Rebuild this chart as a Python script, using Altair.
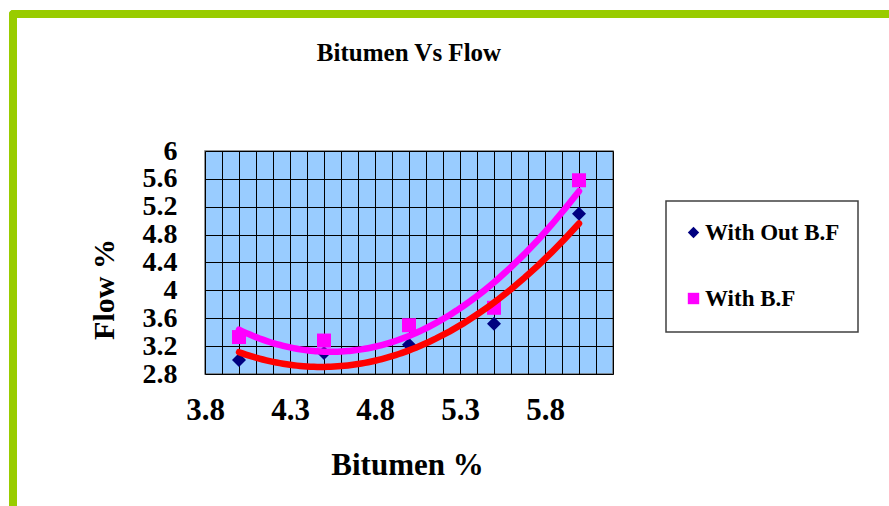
import altair as alt
import pandas as pd

# Bitumen content (%) and measured flow (%) for both mixes
bitumen = [4.0, 4.5, 5.0, 5.5, 6.0]
flow_without_bf = [3.00, 3.10, 3.22, 3.52, 5.10]
flow_with_bf = [3.33, 3.28, 3.50, 3.75, 5.58]

series_names = ["With Out B.F", "With B.F"]
series_colors = ["#000080", "#ff00ff"]
series_shapes = ["diamond", "square"]
trend_colors = ["#ff0000", "#ff00ff"]

x_grid = [round(3.8 + 0.1 * i, 1) for i in range(25)]
y_grid = [2.8, 3.2, 3.6, 4.0, 4.4, 4.8, 5.2, 5.6, 6.0]

FONT = "Liberation Serif"
W, H = 408, 223
LEFT, TOP = 205, 151

rows = []
for name, values in zip(series_names, [flow_without_bf, flow_with_bf]):
    for b, f in zip(bitumen, values):
        rows.append({"bitumen": b, "flow": f, "series": name})
df = pd.DataFrame(rows)

x_scale = alt.Scale(domain=[3.8, 6.2], nice=False, zero=False)
y_scale = alt.Scale(domain=[2.8, 6.0], nice=False, zero=False)

x_axis = alt.Axis(
    values=x_grid, tickCount=len(x_grid),
    labelExpr="round(datum.value * 10) % 5 == 3 ? format(datum.value, '.1f') : ''",
    title="Bitumen %",
    titleX=202, titleY=100, titleAlign="center", titleBaseline="alphabetic",
    titleFontSize=31, labelFontSize=31, labelPadding=21,
    grid=True, ticks=False, domain=False, labelFlush=False, labelOverlap=False,
)
y_axis = alt.Axis(
    values=y_grid, tickCount=len(y_grid),
    format=".1~f",
    title="Flow %",
    titleX=-92, titleY=138, titleAngle=270, titleAlign="center",
    titleBaseline="alphabetic",
    titleFontSize=30, labelFontSize=28, labelPadding=28,
    grid=True, ticks=False, domain=False, labelFlush=False, labelOverlap=False,
)

legend_style = dict(
    title=None, orient="none", legendX=456, legendY=49,
    padding=21,
    labelFont=FONT, labelFontSize=23, labelFontWeight="bold",
    labelColor="black", symbolSize=130, symbolStrokeWidth=0,
    rowPadding=42, labelOffset=0,
)

points = alt.Chart(df).mark_point(filled=True, size=196, opacity=1).encode(
    x=alt.X("bitumen:Q", scale=x_scale, axis=x_axis),
    y=alt.Y("flow:Q", scale=y_scale, axis=y_axis),
    color=alt.Color(
        "series:N",
        scale=alt.Scale(domain=series_names, range=series_colors),
        legend=alt.Legend(**legend_style),
    ),
    shape=alt.Shape(
        "series:N",
        scale=alt.Scale(domain=series_names, range=series_shapes),
        legend=alt.Legend(**legend_style),
    ),
)

# Second-order polynomial trend lines for each series
trends = []
for name, color in zip(series_names, trend_colors):
    trends.append(
        alt.Chart(df)
        .transform_filter(alt.datum.series == name)
        .transform_regression("bitumen", "flow", method="poly", order=2, extent=[4, 6])
        .mark_line(color=color, strokeWidth=6.5, strokeCap="round")
        .encode(x=alt.X("bitumen:Q", scale=x_scale), y=alt.Y("flow:Q", scale=y_scale))
    )

one = pd.DataFrame({"k": [0]})

# Box behind the legend
legend_box = alt.Chart(one).mark_rect(fill="white", stroke="#404040", strokeWidth=1.5).encode(
    x=alt.value(666 - LEFT), x2=alt.value(858 - LEFT),
    y=alt.value(201 - TOP), y2=alt.value(332 - TOP),
)

# Green frame around the figure
frame_left = alt.Chart(one).mark_rect(color="#99cc00", cornerRadiusTopLeft=5).encode(
    x=alt.value(9 - LEFT), x2=alt.value(17 - LEFT),
    y=alt.value(10 - TOP), y2=alt.value(520 - TOP),
)
frame_top = alt.Chart(one).mark_rect(color="#99cc00", cornerRadiusTopLeft=5).encode(
    x=alt.value(9 - LEFT), x2=alt.value(900 - LEFT),
    y=alt.value(10 - TOP), y2=alt.value(18 - TOP),
)

chart = alt.layer(frame_left, frame_top, legend_box, points, *trends).properties(
    width=W, height=H,
    autosize=alt.AutoSizeParams(type="none"),
    padding={"left": LEFT, "top": TOP, "right": 889 - LEFT - W, "bottom": 506 - TOP - H},
    title=alt.TitleParams(
        "Bitumen Vs Flow", font=FONT, fontSize=25, fontWeight="bold",
        anchor="middle", baseline="alphabetic", offset=-76, color="black",
    ),
).configure(
    background="white",
).configure_view(
    fill="#99ccff", stroke="#707070", strokeWidth=1.5,
).configure_axis(
    labelFont=FONT, titleFont=FONT, labelFontWeight="bold", titleFontWeight="bold",
    labelColor="black", titleColor="black",
    gridColor="#000000", gridOpacity=1, gridWidth=1,
)

chart.save("out.html", embed_options={"renderer": "svg", "actions": False})
